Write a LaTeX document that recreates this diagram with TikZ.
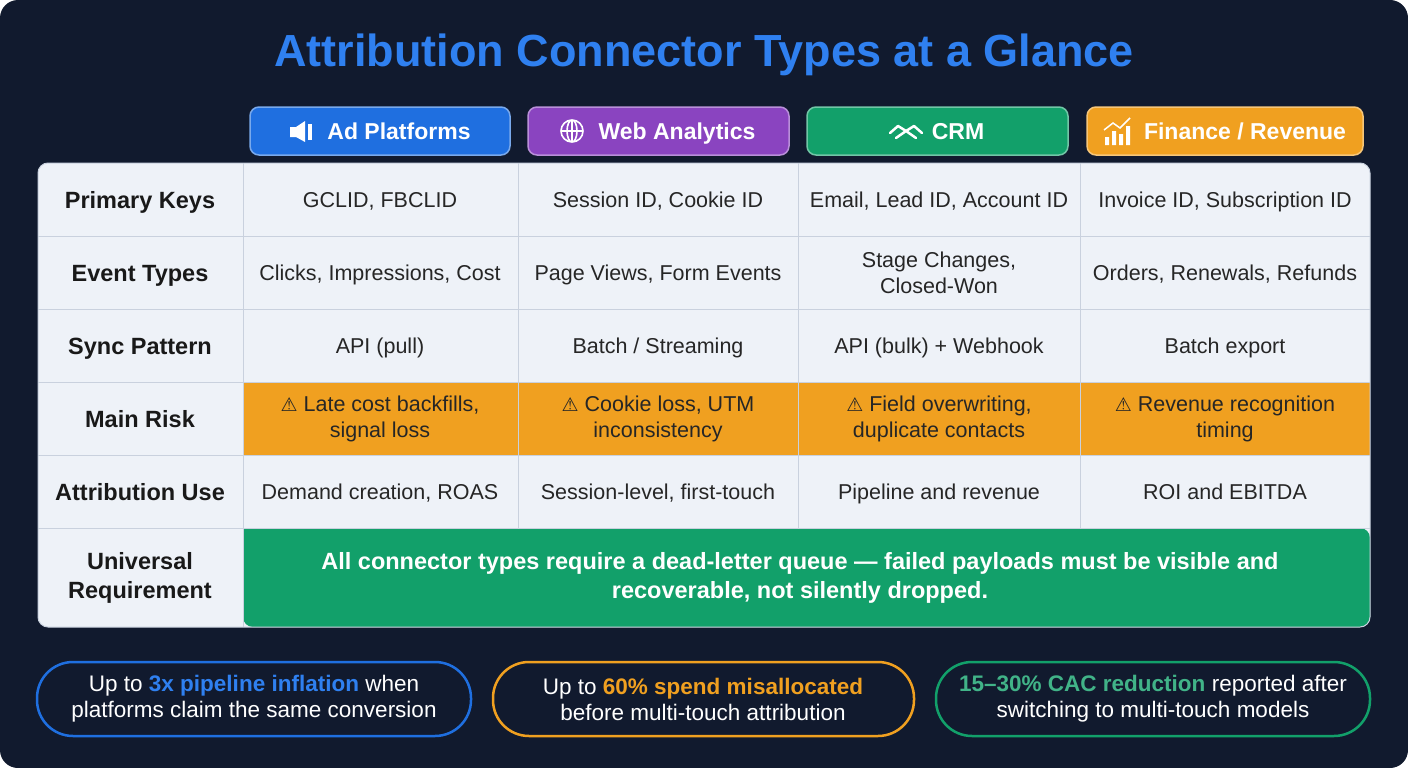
\documentclass[tikz,border=0pt]{standalone}
\usepackage{fontspec}
\setmainfont{Liberation Sans}
\newfontfamily\dv{DejaVu Sans}
\begin{document}
\begin{tikzpicture}[x=1pt,y=-1pt,
 cell/.style={font=\fontsize{21.5}{26}\selectfont,text=black!85,align=center,text height=15pt,text depth=0pt},
 rowh/.style={font=\bfseries\fontsize{23.5}{28}\selectfont,text=black!90,align=center,text height=17pt,text depth=0pt},
 hdr/.style={rounded corners=9pt,line width=1.5pt},
 htxt/.style={font=\bfseries\fontsize{23}{27}\selectfont,text=white,text height=16.5pt,text depth=0pt},
 pill/.style={rounded corners=36pt,line width=2.5pt,fill=card},
 ptxt/.style={font=\fontsize{22.5}{26}\selectfont,text=white,align=center}]
\definecolor{card}{HTML}{111A2E}
\definecolor{tbg}{HTML}{EEF2F8}
\definecolor{tline}{HTML}{C9D1DE}
\definecolor{cblue}{HTML}{1F6FE0}
\definecolor{cpurp}{HTML}{8A44C0}
\definecolor{cgreen}{HTML}{12A06A}
\definecolor{corange}{HTML}{F0A020}
\definecolor{ttl}{HTML}{2F80F0}
\useasboundingbox (0,0) rectangle (1408,768);
\fill[white] (0,0) rectangle (1408,768);
\fill[card,rounded corners=18pt] (0,0) rectangle (1408,768);
\node[font=\bfseries\fontsize{45}{52}\selectfont,text=ttl] (title) at (704,55) {Attribution Connector Types at a Glance};
% headers
\draw[hdr,fill=cblue,draw=cblue!60!white] (250,107) rectangle (510,155);
\draw[hdr,fill=cpurp,draw=cpurp!60!white] (528,107) rectangle (789,155);
\draw[hdr,fill=cgreen,draw=cgreen!60!white] (807,107) rectangle (1068,155);
\draw[hdr,fill=corange,draw=corange!60!white] (1087,107) rectangle (1363,155);
\node[htxt] (h1) at (399,131) {Ad Platforms};
\node[htxt] (h2) at (677,131) {Web Analytics};
\node[htxt] (h3) at (958,131) {CRM};
\node[htxt] (h4) at (1245,131) {Finance / Revenue};
% icons
\fill[white] (290,127) rectangle (296,137) -- (305,142) -- (305,121) -- (296,127) -- cycle;
\fill[white] (308,124) rectangle (312,140);
\draw[white,line width=1.6pt] (572,131) circle (11) (561,131)--(583,131) (572,120)--(572,142) (572,131) ellipse (5 and 11);
\draw[white,line width=2.5pt,line cap=round,line join=round] (890,133)--(898,126)--(906,131)--(914,126)--(922,133) (896,138)--(906,131)--(916,138);
\fill[white] (1105,137) rectangle (1109,145) (1112,131) rectangle (1116,145) (1119,134) rectangle (1123,145) (1126,126) rectangle (1130,145);
\draw[white,line width=1.5pt] (1104,130)--(1113,123)--(1120,128)--(1130,118);
% table
\fill[tbg,rounded corners=10pt] (38,163) rectangle (1370,627);
\fill[corange] (243,382) rectangle (1370,455);
\fill[cgreen,rounded corners=10pt] (243,528) rectangle (1370,627);
\fill[cgreen] (243,528) rectangle (1300,600);
\draw[tline,line width=1pt] (38,236)--(1370,236) (38,309)--(1370,309) (38,382)--(1370,382) (38,455)--(1370,455) (38,528)--(1370,528)
 (243,163)--(243,627) (518,163)--(518,528) (798,163)--(798,528) (1080,163)--(1080,528);
\draw[tline,line width=1pt,rounded corners=10pt] (38,163) rectangle (1370,627);
\foreach \y/\t [count=\i] in {200/Primary Keys,273/Event Types,346/Sync Pattern,419/Main Risk,492/Attribution Use}
 \node[rowh] (r\i) at (140,\y) {\t};
\node[font=\bfseries\fontsize{23.5}{29}\selectfont,text=black!90,align=center] (r6) at (140,578) {Universal\\Requirement};
\node[cell] (c11) at (380,200) {GCLID, FBCLID};
\node[cell] (c12) at (658,200) {Session ID, Cookie ID};
\node[cell] (c13) at (939,200) {Email, Lead ID, Account ID};
\node[cell] (c14) at (1225,200) {Invoice ID, Subscription ID};
\node[cell] (c21) at (380,273) {Clicks, Impressions, Cost};
\node[cell] (c22) at (658,273) {Page Views, Form Events};
\node[cell,text height=,text depth=] (c23) at (939,273) {Stage Changes,\\Closed-Won};
\node[cell] (c24) at (1225,273) {Orders, Renewals, Refunds};
\node[cell] (c31) at (380,346) {API (pull)};
\node[cell] (c32) at (658,346) {Batch / Streaming};
\node[cell] (c33) at (939,346) {API (bulk) + Webhook};
\node[cell] (c34) at (1225,346) {Batch export};
\tikzset{cell/.append style={text height=,text depth=}}
\node[cell] (c41) at (380,419) {{\dv\fontsize{19}{22}\selectfont ⚠} Late cost backfills,\\signal loss};
\node[cell] (c42) at (658,419) {{\dv\fontsize{19}{22}\selectfont ⚠} Cookie loss, UTM\\inconsistency};
\node[cell] (c43) at (939,419) {{\dv\fontsize{19}{22}\selectfont ⚠} Field overwriting,\\duplicate contacts};
\node[cell] (c44) at (1225,419) {{\dv\fontsize{19}{22}\selectfont ⚠} Revenue recognition\\timing};
\tikzset{cell/.append style={text height=15pt,text depth=0pt}}
\node[cell] (c51) at (380,492) {Demand creation, ROAS};
\node[cell] (c52) at (658,492) {Session-level, first-touch};
\node[cell] (c53) at (939,492) {Pipeline and revenue};
\node[cell] (c54) at (1225,492) {ROI and EBITDA};
\node[font=\bfseries\fontsize{23.5}{29}\selectfont,text=white,align=center] (u) at (800,578) {All connector types require a dead-letter queue — failed payloads must be visible and\\recoverable, not silently dropped.};
% pills
\draw[pill,draw=cblue] (37,662) rectangle (471,736);
\draw[pill,draw=corange] (493,662) rectangle (914,736);
\draw[pill,draw=cgreen] (936,662) rectangle (1370,736);
\node[ptxt] (p1) at (254,699) {Up to \textbf{\textcolor{ttl}{3x pipeline inflation}} when\\platforms claim the same conversion};
\node[ptxt] (p2) at (703,699) {Up to \textbf{\textcolor{corange}{60\% spend misallocated}}\\before multi-touch attribution};
\node[ptxt] (p3) at (1153,699) {\textbf{\textcolor{cgreen!80!white}{15–30\% CAC reduction}} reported after\\switching to multi-touch models};
\end{tikzpicture}
\end{document}
